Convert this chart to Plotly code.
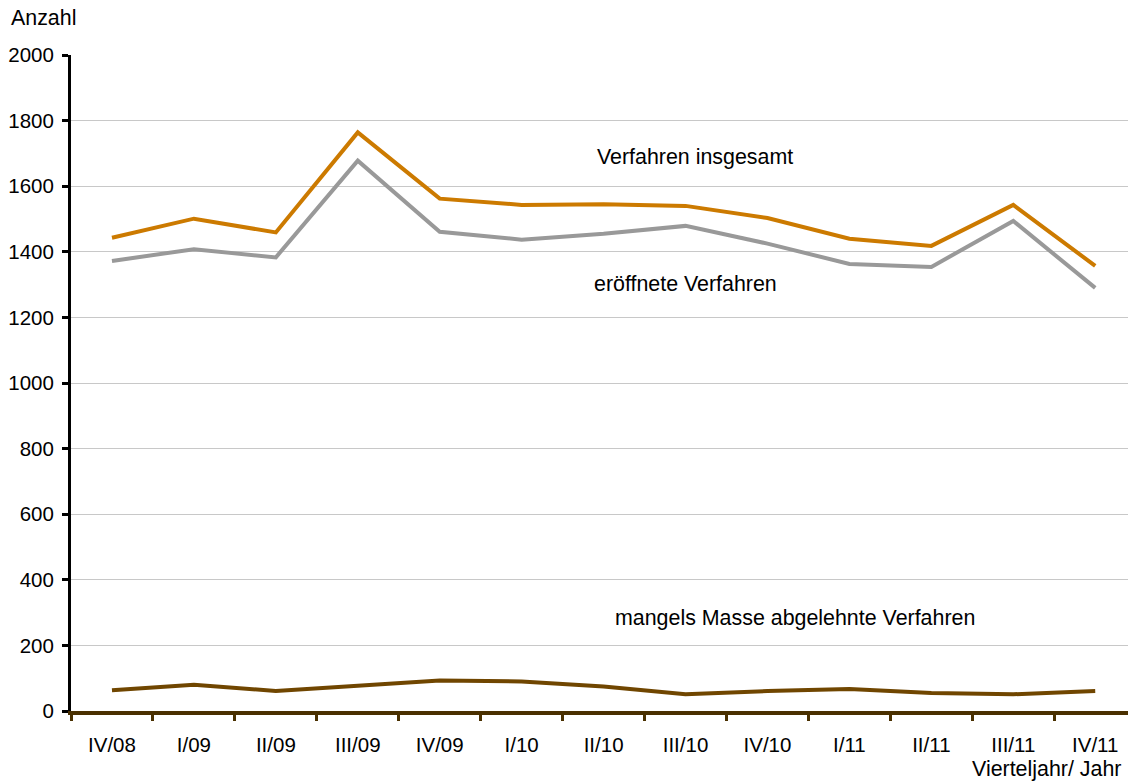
import plotly.graph_objects as go

categories = ["IV/08", "I/09", "II/09", "III/09", "IV/09", "I/10", "II/10",
              "III/10", "IV/10", "I/11", "II/11", "III/11", "IV/11"]
insgesamt = [1443, 1501, 1459, 1764, 1562, 1543, 1545, 1540, 1503, 1440, 1418, 1543, 1357]
eroeffnet = [1372, 1408, 1383, 1678, 1461, 1437, 1455, 1479, 1425, 1363, 1354, 1494, 1290]
mangels = [63, 80, 61, 76, 93, 90, 75, 51, 61, 67, 55, 51, 61]
y_ticks = list(range(0, 2001, 200))

FONT = "Liberation Sans, Arial, sans-serif"
FS = 20.5
FA = 21.4

fig = go.Figure()
fig.add_trace(go.Scatter(x=categories, y=mangels, mode="lines",
                         line=dict(color="#704600", width=4), name="mangels Masse abgelehnte Verfahren"))
fig.add_trace(go.Scatter(x=categories, y=eroeffnet, mode="lines",
                         line=dict(color="#999999", width=4), name="eröffnete Verfahren"))
fig.add_trace(go.Scatter(x=categories, y=insgesamt, mode="lines",
                         line=dict(color="#CC7A00", width=4), name="Verfahren insgesamt"))

fig.update_layout(
    width=1128, height=784,
    margin=dict(l=71, r=0, t=55, b=73),
    paper_bgcolor="white", plot_bgcolor="white",
    showlegend=False,
    font=dict(family=FONT, size=FS, color="black"),
    xaxis=dict(
        type="category", range=[-0.5, 12.4],
        showgrid=False, zeroline=False,
        showline=True, linecolor="#4a3000", linewidth=4,
        ticks="outside", tickson="boundaries", ticklen=6, tickwidth=3, tickcolor="#4a3000",
        ticklabelstandoff=12,
        tickfont=dict(family=FONT, size=FS, color="black"),
    ),
    yaxis=dict(
        range=[0, 2000], tickvals=y_ticks,
        showgrid=True, gridcolor="#c8c8c8", gridwidth=1,
        zeroline=False,
        showline=True, linecolor="black", linewidth=3,
        ticks="outside", ticklen=6, tickwidth=3, tickcolor="black",
        ticklabelstandoff=4,
        tickfont=dict(family=FONT, size=FS, color="black"),
    ),
    annotations=[
        dict(text="Anzahl", xref="paper", yref="paper", x=-0.0596, y=1.0564,
             xanchor="left", yanchor="middle", showarrow=False, xshift=1, font=dict(size=FA)),
        dict(text="Vierteljahr/ Jahr", xref="paper", yref="paper", x=1, y=-0.088,
             xanchor="right", yanchor="middle", showarrow=False, xshift=-5, font=dict(size=FA)),
        dict(text="Verfahren insgesamt", xref="x", yref="y", x=7.11, y=1690,
             xanchor="center", yanchor="middle", showarrow=False, font=dict(size=FA)),
        dict(text="eröffnete Verfahren", xref="x", yref="y", x=7.0, y=1302,
             xanchor="center", yanchor="middle", showarrow=False, font=dict(size=FA)),
        dict(text="mangels Masse abgelehnte Verfahren", xref="x", yref="y", x=8.34, y=285,
             xanchor="center", yanchor="middle", showarrow=False, font=dict(size=FA)),
    ],
)

fig.write_html("out.html",
               config={"displayModeBar": False},
               post_script="document.body.style.margin='0';document.body.style.overflow='hidden';")
